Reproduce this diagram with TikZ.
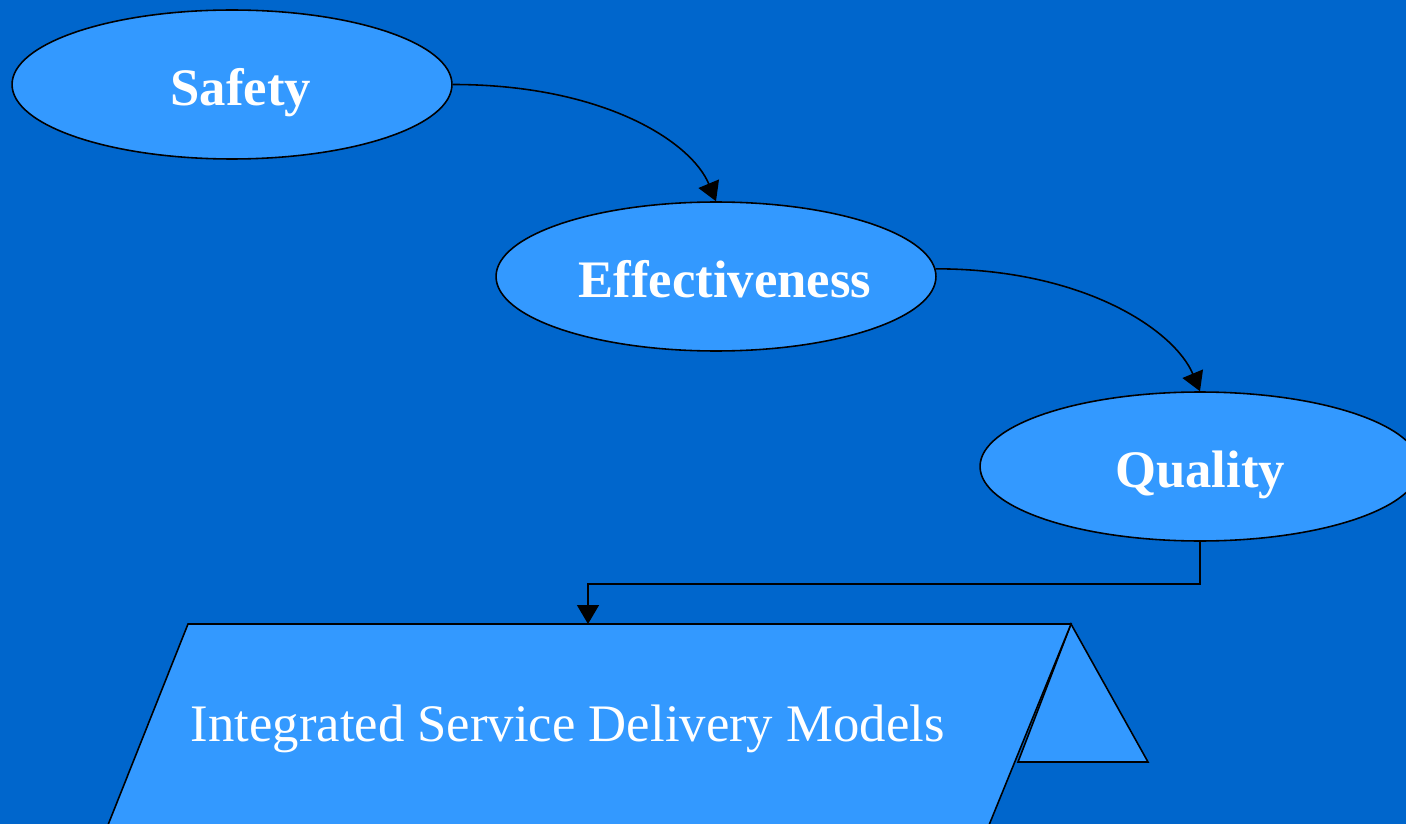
\documentclass[tikz,border=0pt]{standalone}
\usepackage{fontspec}
\setmainfont{Liberation Serif}
\usepackage{tikz}
\usetikzlibrary{shapes.geometric, arrows.meta}

\definecolor{bgblue}{HTML}{0066CC}
\definecolor{boxblue}{HTML}{3399FF}

\begin{document}
\begin{tikzpicture}[x=0.02cm, y=-0.02cm, line width=0.9pt,
    goal/.style={ellipse, draw, fill=boxblue, text=white, inner sep=0pt,
        minimum width=8.8cm, minimum height=2.98cm,
        text height=0.84cm, text depth=0pt,
        font=\fontsize{30}{36}\selectfont\bfseries},
    nudge/.style={execute at begin node={\hspace*{0.35cm}}},
    tip/.style={-{Triangle[length=10.8pt, width=12.5pt]}}]
        % Background
        \useasboundingbox (0, 0) rectangle (1406, 824);
        \clip (0, 0) rectangle (1406, 824);
        \fill[bgblue] (0, 0) rectangle (1406, 824);

        % Model shape
        \draw[fill=boxblue] (1071, 624) -- (1148, 762) -- (1018, 762) -- cycle;
        \draw[fill=boxblue] (188, 624) -- (1071, 624) -- (987, 830) -- (106, 830) -- cycle;
        \node[anchor=base west, text=white, inner sep=0pt,
            font=\fontsize{30}{36}\selectfont] (isdm) at (190, 741) {Integrated Service Delivery Models};
        \coordinate (isdmtop) at (588, 624);

        % Nodes
        \node[goal, nudge] (safety) at (232, 84.5) {Safety};
        \node[goal, nudge] (eff) at (716, 276.5) {Effectiveness};
        \node[goal] (quality) at (1200, 466.5) {Quality};

        % Lines
        \draw[tip] (safety.east) .. controls +(150, 0) and +(-25, -60) .. (eff.north);
        \draw[tip] (eff.2) .. controls +(150, 0) and +(-25, -60) .. (quality.north);
        \draw[tip] (quality.south) -- ++(0, 42) -| (isdmtop);
    \end{tikzpicture}
\end{document}
